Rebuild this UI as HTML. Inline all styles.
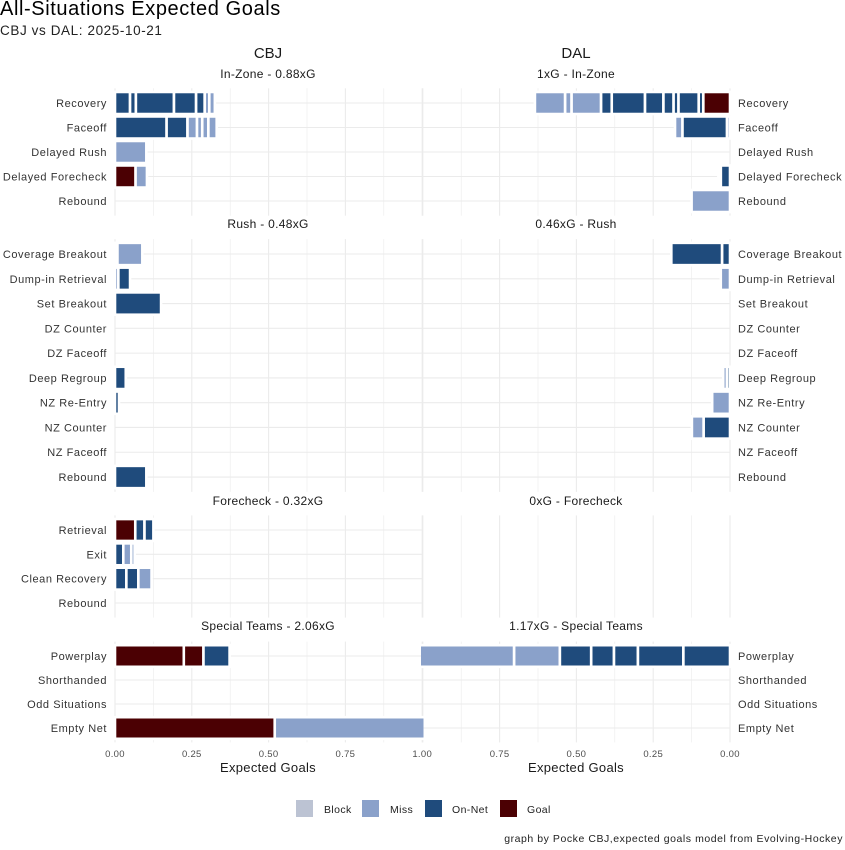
<!DOCTYPE html>
<html><head><meta charset="utf-8">
<style>
html,body{margin:0;padding:0;background:#fff;}
body{width:845px;height:845px;overflow:hidden;font-family:"Liberation Sans",Arial,sans-serif;}
svg text{font-family:"Liberation Sans",Arial,sans-serif;}
</style></head>
<body>
<svg id="chart" width="845" height="845" viewBox="0 0 845 845" xmlns="http://www.w3.org/2000/svg">
  <text x="0" y="15" font-size="20" letter-spacing="0.6" fill="#000">All-Situations Expected Goals</text>
  <text x="0" y="35" font-size="13.5" letter-spacing="0.6" fill="#222">CBJ vs DAL: 2025-10-21</text>
  <text x="268" y="58" font-size="15" text-anchor="middle" fill="#1a1a1a">CBJ</text>
  <text x="576" y="58" font-size="15" text-anchor="middle" fill="#1a1a1a">DAL</text>
  <g id="grid"></g>
  <g id="bars"></g>
  <g id="labels"></g>
  <text x="268" y="772" font-size="13" letter-spacing="0.3" text-anchor="middle" fill="#1a1a1a">Expected Goals</text>
  <text x="576" y="772" font-size="13" letter-spacing="0.3" text-anchor="middle" fill="#1a1a1a">Expected Goals</text>
  <g>
    <rect x="296" y="800" width="17" height="17" fill="#bcc3d3"/>
    <text x="324" y="813" font-size="10.5" letter-spacing="0.4" fill="#222">Block</text>
    <rect x="362" y="800" width="17" height="17" fill="#8aa1ca"/>
    <text x="390" y="813" font-size="10.5" letter-spacing="0.4" fill="#222">Miss</text>
    <rect x="425" y="800" width="17" height="17" fill="#1f4b7c"/>
    <text x="452" y="813" font-size="10.5" letter-spacing="0.4" fill="#222">On-Net</text>
    <rect x="500" y="800" width="17" height="17" fill="#4b0003"/>
    <text x="527" y="813" font-size="10.5" letter-spacing="0.4" fill="#222">Goal</text>
  </g>
  <text x="843" y="842" font-size="10.5" letter-spacing="0.55" text-anchor="end" fill="#222">graph by Pocke CBJ,expected goals model from Evolving-Hockey</text>
  <defs>
    <clipPath id="clipL"><rect x="100" y="0" width="323.5" height="845"/></clipPath>
    <clipPath id="clipR"><rect x="421" y="0" width="330" height="845"/></clipPath>
  </defs>
</svg>
<script>
// ---- data ----
const inZoneCats = ["Recovery","Faceoff","Delayed Rush","Delayed Forecheck","Rebound"];
const cbjInZoneVals = [[0.049,0.019,0.124,0.072,0.028,0.015,0.018],[0.168,0.068,0.031,0.017,0.020,0.027],[0.102],[0.067,0.037],[]];
const cbjInZoneTypes = [["O","O","O","O","O","M","M"],["O","O","M","M","M","M"],["M"],["G","M"],[]];
const dalInZoneVals = [[0.087,0.015,0.066,0.016,0.033,0.060,0.108,0.035,0.096,0.021,0.098],[0.010,0.145,0.024],[],[0.030,0.008],[0.125]];
const dalInZoneTypes = [["G","O","O","O","O","O","O","O","M","M","M"],["M","O","M"],[],["O","B"],["M"]];

const rushCats = ["Coverage Breakout","Dump-in Retrieval","Set Breakout","DZ Counter","DZ Faceoff","Deep Regroup","NZ Re-Entry","NZ Counter","NZ Faceoff","Rebound"];
const cbjRushVals = [[0.008,0.081],[0.011,0.038],[0.150],[],[],[0.035],[0.013],[],[],[0.102]];
const cbjRushTypes = [["B","M"],["M","O"],["O"],[],[],["O"],["O"],[],[],["O"]];
const dalRushVals = [[0.026,0.165],[0.030],[],[],[],[0.010,0.012],[0.058],[0.086,0.038],[],[]];
const dalRushTypes = [["O","O"],["M"],[],[],[],["O","M"],["M"],["O","M"],[],[]];

const foreCats = ["Retrieval","Exit","Clean Recovery","Rebound"];
const cbjForeVals = [[0.066,0.030,0.029],[0.027,0.026,0.011],[0.037,0.039,0.043],[]];
const cbjForeTypes = [["G","O","O"],["O","M","M"],["O","O","M"],[]];

const stCats = ["Powerplay","Shorthanded","Odd Situations","Empty Net"];
const cbjSTVals = [[0.224,0.064,0.085],[],[],[0.520,1.167]];
const cbjSTTypes = [["G","G","O"],[],[],["G","M"]];
const dalSTVals = [[0.152,0.148,0.078,0.074,0.102,0.149,0.467],[],[],[]];
const dalSTTypes = [["O","O","O","O","O","M","M"],[],[],[]];

const panelTitlesCBJ = ["In-Zone - 0.88xG","Rush - 0.48xG","Forecheck - 0.32xG","Special Teams - 2.06xG"];
const panelTitlesDAL = ["1xG - In-Zone","0.46xG - Rush","0xG - Forecheck","1.17xG - Special Teams"];
const tickValues = [0,0.25,0.5,0.75,1.0];
const tickLabels = ["0.00","0.25","0.50","0.75","1.00"];

// ---- layout ----
const NS = "http://www.w3.org/2000/svg";
const colors = {B:"#bcc3d3",M:"#8aa1ca",O:"#1f4b7c",G:"#4b0003"};
const X0L = 115, X0R = 730, SC = 307.2;
function xL(v){ return X0L + v*SC; }
function xR(v){ return X0R - v*SC; }
const panels = [
  {cats:inZoneCats, y0:103, step:24.5, title:74, cv:cbjInZoneVals, ct:cbjInZoneTypes, dv:dalInZoneVals, dt:dalInZoneTypes, name:"in-zone"},
  {cats:rushCats, y0:254, step:24.78, title:224, cv:cbjRushVals, ct:cbjRushTypes, dv:dalRushVals, dt:dalRushTypes, name:"rush"},
  {cats:foreCats, y0:530, step:24.33, title:501, cv:cbjForeVals, ct:cbjForeTypes, dv:null, dt:null, name:"forecheck"},
  {cats:stCats, y0:656, step:24, title:626, cv:cbjSTVals, ct:cbjSTTypes, dv:dalSTVals, dt:dalSTTypes, name:"special-teams"}
];
const grid = document.getElementById("grid");
const bars = document.getElementById("bars");
const labels = document.getElementById("labels");
function mk(tag, attrs, parent){
  const e = document.createElementNS(NS, tag);
  for (const k in attrs) e.setAttribute(k, attrs[k]);
  parent.appendChild(e);
  return e;
}
function yRow(p,i){ return p.y0 + i*p.step; }

panels.forEach((p, pi) => {
  const n = p.cats.length;
  const top = yRow(p,0) - 0.6*p.step, bot = yRow(p,n-1) + 0.6*p.step;
  const tl = mk("text",{x:268,y:p.title+4,"font-size":12,"letter-spacing":0.3,"text-anchor":"middle",fill:"#1a1a1a"},labels);
  
  
  tl.textContent = panelTitlesCBJ[pi];
  const tr = mk("text",{x:576,y:p.title+4,"font-size":12,"letter-spacing":0.3,"text-anchor":"middle",fill:"#1a1a1a"},labels);
  
  
  tr.textContent = panelTitlesDAL[pi];
  for (let k=0;k<=8;k++){
    const v = k*0.125;
    [xL(v), xR(v)].forEach((gx) => {
      const l = mk("line",{x1:gx,x2:gx,y1:top,y2:bot,stroke:"#ebebeb","stroke-width":k%2===0?1.1:0.6},grid);
      
      
    });
  }
  for (let i=0;i<n;i++){
    const y = yRow(p,i);
    const hl = mk("line",{x1:X0L,x2:xL(1),y1:y,y2:y,stroke:"#ebebeb","stroke-width":1.1},grid);
    
    
    const lt = mk("text",{x:107,y:y+4,"font-size":11,"letter-spacing":0.55,"text-anchor":"end",fill:"#333"},labels);
    
    
    lt.textContent = p.cats[i];
    if (p.dv){
      const hr = mk("line",{x1:xR(1),x2:X0R,y1:y,y2:y,stroke:"#ebebeb","stroke-width":1.1},grid);
      
      
      const rt = mk("text",{x:738,y:y+4,"font-size":11,"letter-spacing":0.55,fill:"#333"},labels);
      
      
      rt.textContent = p.cats[i];
    }
    const h = 0.9*p.step;
    let cum = 0;
    p.cv[i].forEach((v, j) => {
      const r = mk("rect",{x:xL(cum),y:y-h/2,width:v*SC,height:h,fill:colors[p.ct[i][j]],stroke:"#fff","stroke-width":2.6,"clip-path":"url(#clipL)"},bars);
      
      
      cum += v;
    });
    if (p.dv){
      let c2 = 0;
      p.dv[i].forEach((v, j) => {
        const r = mk("rect",{x:xR(c2+v),y:y-h/2,width:v*SC,height:h,fill:colors[p.dt[i][j]],stroke:"#fff","stroke-width":2.6,"clip-path":"url(#clipR)"},bars);
        
        
        c2 += v;
      });
    }
  }
});
tickValues.forEach((v, k) => {
  const a = mk("text",{x:xL(v),y:757,"font-size":9.5,"letter-spacing":0.3,"text-anchor":"middle",fill:"#4d4d4d"},labels);
  
  
  a.textContent = tickLabels[k];
  if (v < 1){
    const b = mk("text",{x:xR(v),y:757,"font-size":9.5,"letter-spacing":0.3,"text-anchor":"middle",fill:"#4d4d4d"},labels);
    
    
    b.textContent = tickLabels[k];
  }
});
</script>
</body></html>
